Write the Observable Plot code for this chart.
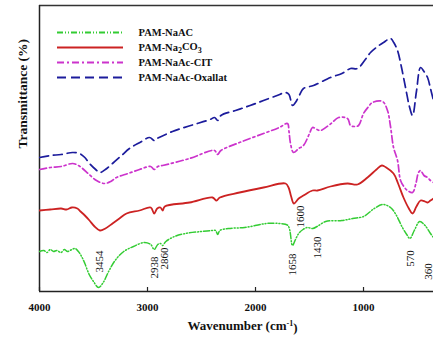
<!DOCTYPE html>
<html>
<head>
<meta charset="utf-8">
<script src="https://cdn.jsdelivr.net/npm/d3@7"></script>
<script src="https://cdn.jsdelivr.net/npm/@observablehq/plot@0.6"></script>
<style>
  html, body { margin: 0; padding: 0; background: #fff; }
</style>
</head>
<body>
<div id="chart"></div>
<script>
// ---- Data (wavenumber cm-1, transmittance in arbitrary offset units) ----
const seriesNames = ["PAM-NaAC", "PAM-Na2CO3", "PAM-NaAc-CIT", "PAM-NaAc-Oxallat"];

const naac = [[4000,40],[3960,41],[3930,39],[3900,42],[3870,40],[3840,41],[3800,39],[3770,42],[3740,40],[3700,42],[3670,43],[3640,40],[3610,35],[3580,28],[3540,17],[3500,10],[3454,4],[3410,9],[3360,20],[3300,31],[3220,40],[3130,45],[3030,49],[2970,47],[2938,42],[2905,47],[2880,48],[2860,46],[2830,50],[2750,55],[2650,58],[2500,60],[2400,61],[2370,61],[2350,57],[2330,61],[2250,63],[2100,64],[1900,68],[1780,68],[1700,66],[1658,46],[1630,52],[1600,58],[1560,62],[1520,64],[1470,63],[1430,65],[1350,70],[1200,71],[1100,73],[1000,75],[900,83],[820,87],[750,84],[700,77],[640,64],[600,57],[570,53],[530,61],[480,70],[430,66],[380,58],[352,54]];

const na2co3 = [[4000,81],[3900,82],[3800,83],[3750,82],[3700,84],[3650,83],[3620,80],[3580,76],[3537,71],[3490,65],[3440,61],[3390,63],[3324,68],[3260,73],[3194,78],[3074,81],[2970,84],[2938,78],[2910,83],[2880,84],[2860,81],[2840,85],[2611,89],[2398,94],[2361,91],[2330,94],[2148,99],[1926,104],[1722,108],[1694,104],[1670,95],[1645,88],[1600,93],[1556,96],[1472,101],[1426,101],[1306,105],[1148,108],[1056,107],[963,114],[880,122],[830,126],[790,124],[722,118],[680,108],[630,94],[580,83],[546,78],[510,85],[472,91],[430,90],[407,89],[380,91],[352,93]];

const cit = [[4000,122],[3898,124],[3800,125],[3694,128],[3640,126],[3602,123],[3540,117],[3472,111],[3398,108],[3340,110],[3287,114],[3180,118],[3074,122],[2970,125],[2938,122],[2905,125],[2860,126],[2611,133],[2380,141],[2352,137],[2320,141],[2148,149],[1926,158],[1780,164],[1704,168],[1690,160],[1676,148],[1648,139],[1600,143],[1556,146],[1500,158],[1472,164],[1430,162],[1398,161],[1300,168],[1231,174],[1148,173],[1120,166],[1080,165],[1046,166],[1000,178],[960,184],[917,189],[824,190],[778,181],[750,165],[722,144],[685,131],[657,111],[620,104],[593,101],[546,99],[515,108],[491,119],[472,121],[440,116],[407,114],[380,111],[352,109]];

const oxallat = [[4000,134],[3898,136],[3800,137],[3694,139],[3630,138],[3580,134],[3537,128],[3480,122],[3440,119],[3390,122],[3324,128],[3240,136],[3167,143],[3070,149],[2981,154],[2938,151],[2910,153],[2769,160],[2600,166],[2420,172],[2380,174],[2350,171],[2320,176],[2185,181],[2050,186],[1926,191],[1800,196],[1722,199],[1690,197],[1657,186],[1630,189],[1590,197],[1556,203],[1463,206],[1306,214],[1200,218],[1120,223],[1056,223],[990,231],[935,239],[870,245],[815,249],[750,253],[720,249],[685,241],[650,225],[611,204],[575,185],[546,176],[510,200],[472,224],[440,220],[407,214],[380,203],[352,191]];

const xTicks = [4000, 3000, 2000, 1000];
const peakLabels = [3454, 2938, 2860, 1658, 1600, 1430, 570, 360];
const peakLabelHeights = [30, 24, 33, 27, 75, 44, 33, 20];
const peakLabelShift = [1, 0, 2, 0, 2, 0, 1, -4];

// ---- Styles ----
const colors = ["#33cc33", "#cc2222", "#cc33cc", "#1c1c9c"];
const dashes = ["6,2,1,2,1,2", null, "7,3,2,3", "9,5"];
const widths = [1.5, 1.8, 1.7, 1.7];
const allSeries = [naac, na2co3, cit, oxallat];

const W = 433, H = 339, mL = 39, mR = 0, mT = 5, mB = 48;
const xDomain = [4000, 352];
const pxToWn = px => xDomain[0] - (px - mL) * (xDomain[0] - xDomain[1]) / (W - mL - mR);
const pyToT = py => (H - mB) - py;

const serif = "'Liberation Serif', 'Times New Roman', serif";

const legendRowsY = [32, 47, 62, 77];

const marks = [];

// frame
marks.push(Plot.ruleY([0], {stroke: "#222", strokeWidth: 1.5}));
marks.push(Plot.ruleY([286], {stroke: "#333", strokeWidth: 1.5}));
marks.push(Plot.ruleX([4000], {stroke: "#222", strokeWidth: 1.5}));
// inward ticks
marks.push(Plot.ruleX(xTicks, {x: d => d, y1: 0, y2: 4, stroke: "#222", strokeWidth: 1.2}));
// tick labels
marks.push(Plot.text(xTicks, {x: d => d, y: 0, dy: 16, text: d => String(d), fontSize: 11, fontWeight: "bold", fill: "#111"}));

// series
allSeries.forEach((s, i) => {
  marks.push(Plot.line(s, {
    x: d => d[0], y: d => d[1],
    stroke: colors[i], strokeWidth: widths[i],
    strokeDasharray: dashes[i] || undefined,
    curve: "catmull-rom", clip: true
  }));
});

// peak labels
peakLabels.forEach((p, i) => {
  marks.push(Plot.text([p], {
    x: d => d, y: () => peakLabelHeights[i], dx: peakLabelShift[i],
    text: d => String(d), rotate: -90, fontSize: 11, fill: "#111"
  }));
});

// legend
seriesNames.forEach((name, i) => {
  marks.push(Plot.ruleY([0], {
    x1: pxToWn(57), x2: pxToWn(123), y: () => pyToT(legendRowsY[i]),
    stroke: colors[i], strokeWidth: 2, strokeDasharray: dashes[i] || undefined
  }));
  marks.push(Plot.text([name], {
    x: pxToWn(138), y: () => pyToT(legendRowsY[i]),
    text: d => d, textAnchor: "start", fontSize: 10.5, fontWeight: "bold", fill: "#111"
  }));
});

// axis titles
marks.push(Plot.text(["Transmittance (%)"], {
  frameAnchor: "left", dx: -17, rotate: -90, text: d => d,
  fontSize: 13.5, fontWeight: "bold", fill: "#111"
}));
marks.push(Plot.text(["Wavenumber (cm-1)"], {
  frameAnchor: "bottom", dy: 38, dx: 6, text: d => d,
  fontSize: 13, fontWeight: "bold", fill: "#111"
}));

const chart = Plot.plot({
  width: W, height: H,
  marginLeft: mL, marginRight: mR, marginTop: mT, marginBottom: mB,
  x: {domain: xDomain, axis: null},
  y: {domain: [0, 286], axis: null},
  style: {fontFamily: serif, background: "#fff", overflow: "hidden"},
  marks
});
document.getElementById("chart").appendChild(chart);

// sub/superscripts
d3.select(chart).selectAll("text").each(function() {
  const t = d3.select(this);
  const txt = this.textContent;
  if (txt === "PAM-Na2CO3") {
    t.text(null);
    t.append("tspan").text("PAM-Na");
    t.append("tspan").attr("dy", "0.3em").attr("font-size", "8").text("2");
    t.append("tspan").attr("dy", "-0.3em").text("CO");
    t.append("tspan").attr("dy", "0.3em").attr("font-size", "8").text("3");
  } else if (txt === "Wavenumber (cm-1)") {
    t.text(null);
    t.append("tspan").text("Wavenumber (cm");
    t.append("tspan").attr("dy", "-0.45em").attr("font-size", "8").text("-1");
    t.append("tspan").attr("dy", "0.45em").text(")");
  }
});
</script>
</body>
</html>
